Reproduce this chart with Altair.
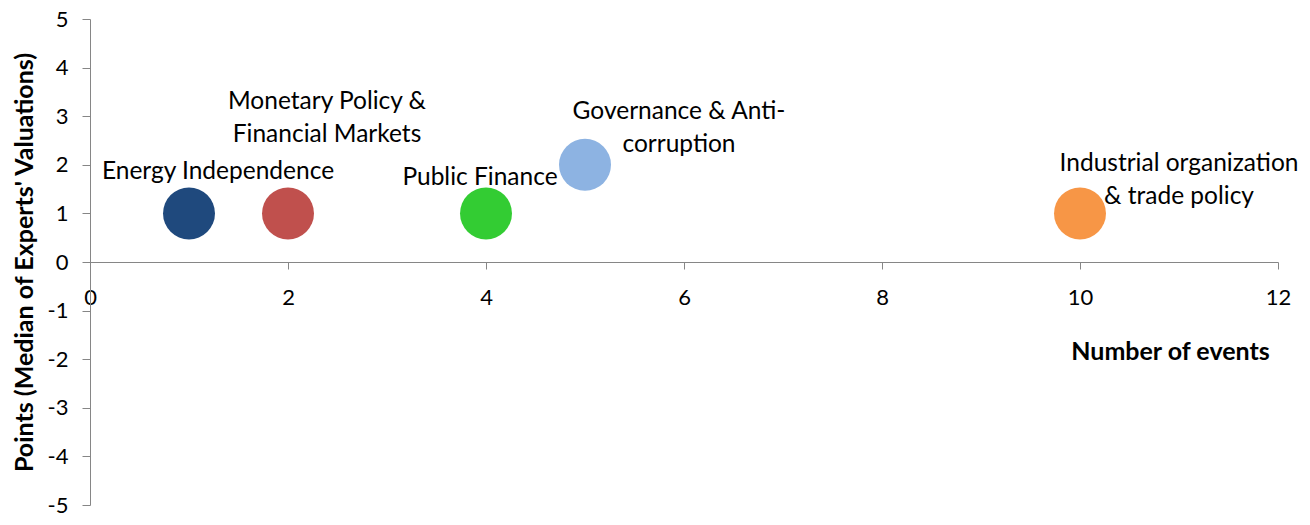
import altair as alt
import pandas as pd

labels = ["Energy Independence", "Monetary Policy &\nFinancial Markets", "Public Finance",
          "Governance & Anti-\ncorruption", "Industrial organization\n& trade policy"]
events = [1, 2, 4, 5, 10]
points = [1, 1, 1, 2, 1]
colors = ["#1F497D", "#C0504D", "#33CC33", "#8DB3E2", "#F79646"]

# label offsets (pixels) of first text line relative to each bubble
label_dx = [29, 39, -6, 94, 99]
label_dy = [-41, -111, -35, -53, -49]

df = pd.DataFrame({"label": labels, "events": events, "points": points, "color": colors})

FONT = "Lato"
W, H = 1188, 486

x_scale = alt.Scale(domain=[0, 12], nice=False, zero=False)
y_scale = alt.Scale(domain=[-5, 5], nice=False, zero=False)

x_axis = alt.Axis(values=list(range(0, 13, 2)), labelExpr="'' + datum.value", offset=-H / 2,
                  grid=False, labelFlush=False,
                  domainColor="#868686", tickColor="#868686", tickSize=7, labelPadding=18,
                  labelFontSize=22, labelFont=FONT, labelColor="black",
                  title="Number of events", titleFont=FONT, titleFontSize=25,
                  titleFontWeight="bold", titleColor="black", titleX=1080, titleY=89,
                  titleAlign="center", titleBaseline="middle")
y_axis = alt.Axis(values=list(range(-5, 6)), labelExpr="'' + datum.value", grid=False,
                  labelFlush=False, domainColor="#868686", tickColor="#868686",
                  tickSize=8, labelPadding=14, labelFontSize=22, labelFont=FONT, labelColor="black",
                  title="Points (Median of Experts' Valuations)", titleFont=FONT, titleFontSize=25,
                  titleFontWeight="bold", titleColor="black", titleX=-66, titleY=H / 2,
                  titleAngle=-90, titleAlign="center", titleBaseline="middle")

base = alt.Chart(df)
bubbles = base.mark_circle(size=2700, opacity=1).encode(
    x=alt.X("events:Q", scale=x_scale, axis=x_axis),
    y=alt.Y("points:Q", scale=y_scale, axis=y_axis),
    color=alt.Color("color:N", scale=None, legend=None),
)

layers = [bubbles]
for i, lab in enumerate(labels):
    sub = df.iloc[[i]]
    layers.append(
        alt.Chart(sub).mark_text(font=FONT, fontSize=24.5, color="black", dx=label_dx[i], dy=label_dy[i],
                                 align="center", baseline="middle", lineBreak="\n", lineHeight=33)
        .encode(x=alt.X("events:Q", scale=x_scale), y=alt.Y("points:Q", scale=y_scale),
                text="label:N")
    )

chart = alt.layer(*layers).properties(
    width=W, height=H,
    autosize=alt.AutoSizeParams(type="none"),
    padding={"left": 82, "top": 11, "right": 24, "bottom": 12},
).configure_view(stroke=None)

chart.save("out.html", embed_options={"renderer": "svg", "actions": False})
